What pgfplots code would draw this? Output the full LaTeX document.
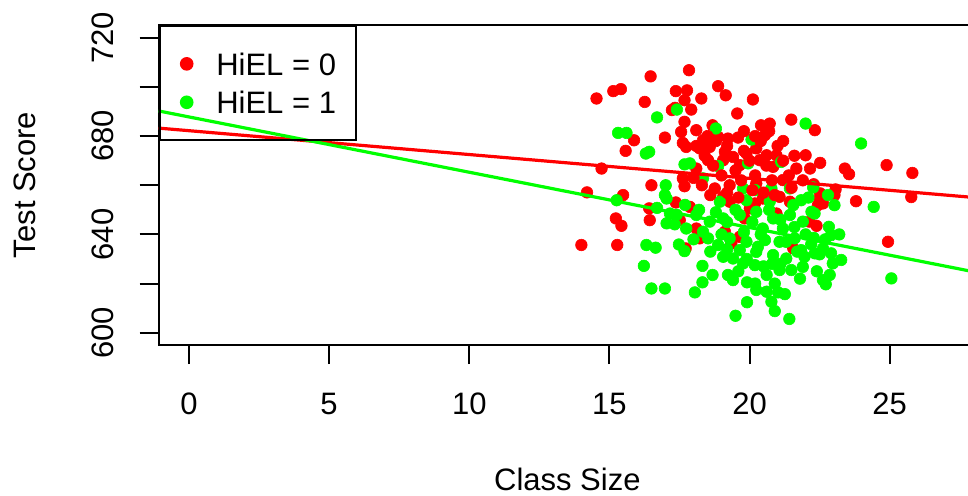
\documentclass[border=0pt]{standalone}
\usepackage{fontspec}
\setmainfont{Liberation Sans}
\usepackage{pgfplots}
\usepackage{pgfplotstable}
\pgfplotsset{compat=1.18}
\definecolor{rred}{RGB}{255,0,0}
\definecolor{rgreen}{RGB}{0,255,0}

% HiEL = 0 districts (str, testscr)
\pgfplotstableread{
x y
16.47 704.3
17.84 706.8
14.54 695.3
15.14 698.3
15.41 699.1
16.26 693.9
17.37 698.3
17.34 691.5
17.23 690.6
17.68 694.6
17.77 698.6
15.88 678.3
16.98 679.4
15.58 674.0
17.68 685.8
17.56 681.7
17.62 677.2
17.74 675.6
14.72 666.8
17.62 662.8
16.50 660.0
17.68 659.6
14.20 657.1
15.49 656.0
18.88 700.3
19.15 696.6
18.28 695.3
20.12 694.9
19.56 689.2
21.49 686.7
17.92 690.8
18.68 684.4
18.10 682.4
20.41 684.4
20.72 685.1
20.55 680.4
19.59 679.4
19.23 679.0
18.88 679.7
18.34 678.3
18.22 675.0
18.58 675.6
19.12 673.6
19.41 671.5
19.89 672.9
20.24 675.0
20.61 672.2
20.96 672.2
18.52 670.2
19.06 670.2
19.65 668.2
20.36 670.2
20.84 667.5
21.67 666.8
18.76 658.7
19.29 660.0
20.24 660.7
21.19 662.1
18.10 666.8
22.33 682.4
22.00 672.2
22.52 669.1
22.16 666.8
23.40 666.8
23.55 664.5
24.89 668.2
25.81 665.0
22.29 660.4
23.07 658.3
22.52 656.7
25.77 655.2
15.23 646.5
15.43 643.5
16.42 650.6
16.44 645.8
17.37 653.0
17.51 645.8
14.00 635.7
15.28 635.7
17.72 634.3
18.10 642.4
18.22 638.4
19.12 641.1
19.35 636.3
19.65 639.0
19.83 646.5
20.01 650.6
20.96 648.5
21.56 634.3
19.29 653.3
20.19 652.6
21.44 653.3
17.87 651.2
19.06 655.3
21.07 655.3
20.47 654.6
22.50 654.6
22.62 652.6
22.44 651.9
23.03 656.0
23.80 653.5
24.94 637.0
22.14 645.2
22.39 643.5
}\redtab

% HiEL = 1 districts
\pgfplotstableread{
x y
16.70 687.6
15.31 681.3
15.61 681.3
16.30 672.9
16.42 673.6
17.41 690.8
17.68 668.5
17.01 660.0
16.98 656.0
18.80 683.1
20.07 678.6
17.87 668.9
18.34 662.8
18.88 667.8
19.95 668.9
21.13 669.5
19.77 658.7
20.78 658.7
21.44 658.7
22.00 685.1
23.98 677.0
22.27 659.1
15.26 653.9
16.70 650.8
17.16 648.5
17.04 644.5
17.04 654.6
17.33 644.1
16.32 635.7
16.65 634.6
17.48 635.9
17.68 633.2
16.23 627.2
16.50 618.0
16.98 618.0
17.74 642.4
18.32 627.2
18.68 623.5
18.32 620.5
18.05 616.4
19.23 623.5
19.41 621.4
19.91 620.5
20.24 617.4
20.61 616.7
21.02 616.4
21.26 615.7
19.91 612.4
20.78 612.6
20.90 608.8
19.50 606.9
21.42 605.6
19.77 628.2
20.19 627.5
20.61 623.5
21.07 625.5
21.49 625.5
19.06 630.9
19.41 630.2
18.88 635.7
19.65 633.6
20.24 632.9
20.84 631.6
21.31 630.2
18.52 638.4
19.29 638.4
19.89 637.0
20.55 637.7
21.07 637.0
21.61 638.4
18.10 647.9
18.58 645.2
19.06 646.5
19.65 647.9
20.24 649.2
20.84 646.5
21.44 647.9
18.94 653.3
19.89 653.9
20.72 653.3
21.56 651.9
18.34 641.1
20.47 642.4
21.19 642.4
21.84 653.9
23.03 651.9
24.43 651.2
22.21 649.2
22.32 648.5
21.90 645.2
22.83 643.1
22.91 639.7
22.29 638.6
21.84 633.6
21.96 630.9
22.33 632.3
22.50 631.9
22.62 634.3
22.91 632.3
22.97 628.2
23.27 629.6
21.90 626.8
22.62 621.4
22.72 619.7
22.86 623.5
25.06 622.1
18.20 650.0
18.80 649.0
19.20 645.0
19.50 650.0
20.10 645.0
20.40 640.0
20.70 650.0
21.10 646.0
21.60 643.0
22.00 640.0
19.20 634.0
19.90 630.0
20.50 627.0
21.10 628.0
21.70 633.0
22.20 636.0
18.60 633.0
19.60 625.0
20.20 620.0
20.90 620.0
21.80 622.0
22.40 625.0
22.70 638.0
23.20 640.0
18.00 638.0
20.30 635.0
20.80 628.0
21.30 637.0
19.80 641.0
19.00 640.0
22.10 655.0
22.80 656.0
20.20 658.0
17.70 652.0
17.40 648.0
}\greentab

% more HiEL = 0 districts in the dense middle
\pgfplotstableread{
x y
18.40 672.0
18.70 668.0
19.00 664.0
19.20 676.0
19.50 666.0
19.70 662.0
19.80 674.0
20.00 670.0
20.20 664.0
20.40 678.0
20.60 668.0
20.80 662.0
21.00 676.0
21.20 670.0
21.40 664.0
21.60 672.0
18.50 680.0
19.80 682.0
20.20 680.0
20.70 682.0
21.20 678.0
18.10 676.0
18.30 660.0
18.60 656.0
19.20 657.0
19.60 655.0
20.10 658.0
20.50 657.0
20.90 656.0
21.50 659.0
21.90 662.0
18.00 663.0
18.80 678.0
}\redtabb

\begin{document}
\begin{tikzpicture}
\begin{axis}[
  at={(0,0)}, anchor=south west,
  scale only axis, width=408.65pt, height=160pt,
  xmin=-1.08, xmax=28.08, ymin=595, ymax=725.2,
  clip mode=individual,
  axis line style={line width=1pt},
  tick style={black, line width=1pt},
  tick align=outside, tick pos=left,
  major tick length=9.5pt,
  xtick={0,5,...,25},
  ytick={600,620,...,720},
  yticklabels={600,,640,,680,,720},
  /pgf/number format/assume math mode=true,
  ticklabel style={font=\fontsize{15.5}{18}\selectfont},
  xticklabel style={anchor=north, inner xsep=0pt, inner ysep=14.15pt},
  yticklabel style={rotate=90, anchor=south, inner xsep=0pt, inner ysep=12.95pt},
  legend style={at={(0,1)}, anchor=north west, draw=black, line width=1pt,
    fill=none, inner xsep=10.1pt, inner ysep=13.3pt, row sep=8pt,
    column sep=11.4pt, nodes={inner sep=0pt, text depth=0pt},
    font=\fontsize{15.5}{18}\selectfont},
  legend cell align=left,
]
\addplot[only marks, mark=*, mark size=2.9pt, color=rred,
  mark options={solid, line width=0.3pt},
  legend image code/.code={\fill[rred] (0pt,0pt) circle (2.9pt);}]
  table[x=x, y=y] {\redtab};
\addlegendentry{HiEL = 0}
\addplot[only marks, mark=*, mark size=2.9pt, color=rgreen,
  mark options={solid, line width=0.3pt},
  legend image code/.code={\fill[rgreen] (0pt,0pt) circle (2.9pt);}]
  table[x=x, y=y] {\greentab};
\addlegendentry{HiEL = 1}
\addplot[only marks, mark=*, mark size=2.9pt, color=rred,
  mark options={solid, line width=0.3pt}, forget plot]
  table[x=x, y=y] {\redtabb};
% fitted lines
\addplot[rred, line width=1.6pt, forget plot] coordinates {(-1.08,683.25) (28.08,654.96)};
\addplot[rgreen, line width=1.6pt, forget plot] coordinates {(-1.08,690.23) (28.08,624.62)};
\node[anchor=center, font=\fontsize{15.5}{18}\selectfont]
  at ([yshift=-67pt]rel axis cs:0.5,0) {Class Size};
\node[anchor=center, rotate=90, font=\fontsize{15.5}{18}\selectfont]
  at ([xshift=-66.7pt]rel axis cs:0,0.5) {Test Score};
\end{axis}
\pgfresetboundingbox
\clip (-79.35pt,-75pt) rectangle (404.65pt,172.5pt);
\useasboundingbox (-79.35pt,-75pt) rectangle (404.65pt,172.5pt);
\end{tikzpicture}
\end{document}
